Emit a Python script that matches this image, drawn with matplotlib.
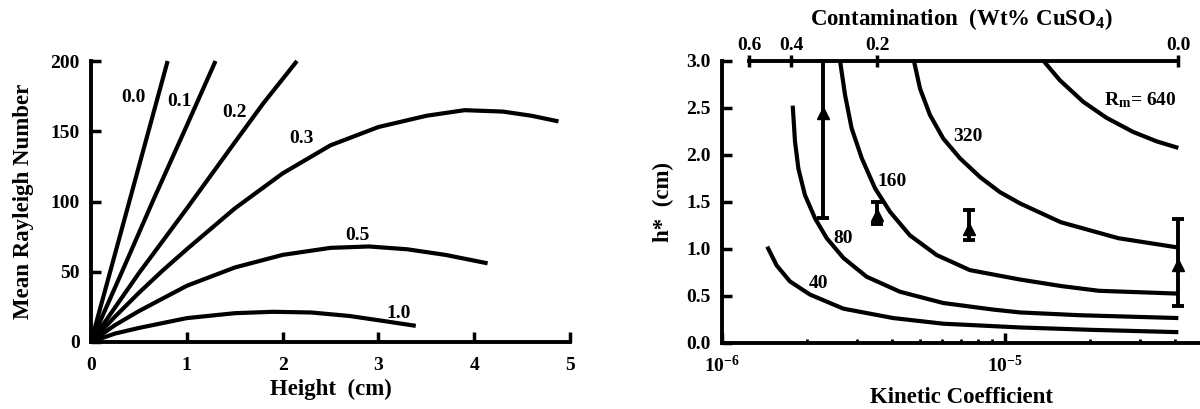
import matplotlib
matplotlib.use('Agg')
import matplotlib.pyplot as plt
from matplotlib.ticker import NullLocator, FixedLocator, FixedFormatter

plt.rcParams['font.family'] = ['Liberation Serif', 'DejaVu Serif']
plt.rcParams['font.weight'] = 'bold'
plt.rcParams['mathtext.fontset'] = 'custom'
plt.rcParams['mathtext.rm'] = 'Liberation Serif:bold'
plt.rcParams['mathtext.bf'] = 'Liberation Serif:bold'
plt.rcParams['mathtext.it'] = 'Liberation Serif:bold'
plt.rcParams['mathtext.default'] = 'rm'

# ---------------- Left panel data: Mean Rayleigh number vs height ----------------
contam_labels = ['0.0', '0.1', '0.2', '0.3', '0.5', '1.0']
height_00 = [0, 0.4, 0.8]
rayl_00 = [0, 100, 200]
height_01 = [0, 0.33, 0.65, 0.98, 1.30]
rayl_01 = [0, 51, 101, 151, 200]
height_02 = [0, 0.5, 1.0, 1.5, 1.8, 2.15]
rayl_02 = [0, 49, 95, 142, 170, 200]
height_03 = [0, 0.25, 0.5, 0.75, 1.0, 1.5, 2.0, 2.5, 3.0, 3.5, 3.9, 4.3, 4.6, 4.88]
rayl_03 = [0, 18, 35, 51, 66, 95, 120, 140, 153, 161, 165, 164, 161, 157]
height_05 = [0, 0.25, 0.5, 1.0, 1.5, 2.0, 2.5, 2.9, 3.3, 3.7, 4.14]
rayl_05 = [0, 12, 22, 40, 53, 62, 67, 68, 66, 62, 56]
height_10 = [0, 0.25, 0.5, 1.0, 1.5, 1.9, 2.3, 2.7, 3.0, 3.39]
rayl_10 = [0, 6, 10, 17, 20.5, 21.5, 21, 18.5, 15.5, 11.5]

# ---------------- Right panel data: h* vs kinetic coefficient ----------------
rm_labels = ['40', '80', '160', '320']
k_40 = [1.445e-6, 1.560e-6, 1.738e-6, 2.046e-6, 2.685e-6, 4.027e-6, 6.053e-6, 1.130e-5,
        2.0e-5, 4.1e-5]
h_40 = [1.02, 0.82, 0.65, 0.51, 0.36, 0.26, 0.20, 0.16, 0.135, 0.11]
k_80 = [1.778e-6, 1.811e-6, 1.862e-6, 1.963e-6, 2.133e-6, 2.344e-6, 2.685e-6, 3.243e-6,
        4.256e-6, 6.053e-6, 9.099e-6, 1.130e-5, 1.841e-5, 4.1e-5]
h_80 = [2.52, 2.14, 1.85, 1.57, 1.32, 1.11, 0.90, 0.70, 0.54, 0.42, 0.35, 0.32, 0.29, 0.26]
k_160 = [2.612e-6, 2.723e-6, 2.871e-6, 3.119e-6, 3.475e-6, 3.926e-6, 4.613e-6, 5.741e-6,
         7.516e-6, 1.130e-5, 1.585e-5, 2.148e-5, 4.1e-5]
h_160 = [3.0, 2.63, 2.28, 1.96, 1.64, 1.39, 1.14, 0.93, 0.77, 0.67, 0.60, 0.55, 0.52]
k_320 = [4.764e-6, 5.012e-6, 5.433e-6, 6.053e-6, 6.934e-6, 8.166e-6, 9.594e-6, 1.130e-5,
         1.574e-5, 2.512e-5, 4.1e-5]
h_320 = [3.0, 2.70, 2.42, 2.17, 1.96, 1.76, 1.60, 1.48, 1.28, 1.11, 1.01]
k_640 = [1.365e-5, 1.563e-5, 1.892e-5, 2.286e-5, 2.838e-5, 3.436e-5, 4.1e-5]
h_640 = [3.0, 2.79, 2.56, 2.39, 2.24, 2.14, 2.07]

# measured points with error bars
k_meas = [2.28e-6, 3.53e-6, 7.48e-6, 4.1e-5]
h_meas = [2.44, 1.36, 1.21, 0.82]
h_low = [1.32, 1.26, 1.09, 0.39]
h_high = [3.0, 1.50, 1.41, 1.31]

# top axis: contamination (Wt% CuSO4) and the kinetic coefficient it maps to
conc_labels = ['0.6', '0.4', '0.2', '0.0']
conc_k = [1.25e-6, 1.76e-6, 3.54e-6, 4.1e-5]

W, H = 1200, 409
fig = plt.figure(figsize=(W / 100, H / 100), dpi=100)

LW = 3.0
SP = 2.8
TICK_FS = 14
TXT_FS = 14
LAB_FS = 16.5

# ================= Left panel =================
ax1 = fig.add_axes([91 / W, (H - 342) / H, (570 - 91) / W, (342 - 61) / H])
ax1.set_xlim(0, 5)
ax1.set_ylim(0, 200)
for s in ['top', 'right']:
    ax1.spines[s].set_visible(False)
for s in ['left', 'bottom']:
    ax1.spines[s].set_linewidth(SP)
ax1.set_xticks([0, 1, 2, 3, 4, 5])
ax1.set_yticks([0, 50, 100, 150, 200])
ax1.tick_params(direction='in', length=7, width=2.5, labelsize=TICK_FS)
ax1.tick_params(axis='x', pad=11)
ax1.tick_params(axis='y', pad=8)

curves_left = [(height_00, rayl_00), (height_01, rayl_01), (height_02, rayl_02),
               (height_03, rayl_03), (height_05, rayl_05), (height_10, rayl_10)]
for hx, ry in curves_left:
    ax1.plot(hx, ry, color='black', lw=LW, solid_capstyle='butt',
             solid_joinstyle='round', clip_on=False)

left_label_pos = [(0.44, 174), (0.92, 171), (1.50, 163), (2.20, 145), (2.78, 76), (3.21, 20)]
for lab, (lx, ly) in zip(contam_labels, left_label_pos):
    ax1.text(lx, ly, lab, ha='center', va='center', fontsize=TXT_FS, fontweight='bold')

ax1.set_xlabel('Height  (cm)', fontsize=LAB_FS, fontweight='bold', labelpad=3)
ax1.set_ylabel('Mean Rayleigh Number', fontsize=LAB_FS, fontweight='bold', labelpad=12)

# ================= Right panel =================
ax2 = fig.add_axes([722 / W, (H - 342.5) / H, (W - 722) / W, (342.5 - 60.5) / H])
ax2.set_xscale('log')
ax2.set_xlim(1e-6, 4.89e-5)
ax2.set_ylim(0, 3.0)
for s in ['top', 'right']:
    ax2.spines[s].set_visible(False)
for s in ['left', 'bottom']:
    ax2.spines[s].set_linewidth(SP)
ax2.xaxis.set_major_locator(FixedLocator([1e-6, 1e-5]))
ax2.xaxis.set_major_formatter(FixedFormatter([r'$10^{-6}$', r'$10^{-5}$']))
ax2.xaxis.set_minor_locator(FixedLocator([2e-6, 3e-6, 4e-6, 5e-6, 6e-6, 7e-6, 8e-6, 9e-6,
                                          2e-5, 3e-5, 4e-5]))
ax2.xaxis.set_minor_formatter(FixedFormatter([''] * 11))
ax2.set_yticks([0, 0.5, 1.0, 1.5, 2.0, 2.5, 3.0])
ax2.set_yticklabels(['0.0', '0.5', '1.0', '1.5', '2.0', '2.5', '3.0'])
ax2.tick_params(which='major', direction='in', length=7, width=2.5, labelsize=TICK_FS)
ax2.tick_params(which='minor', direction='in', length=3, width=2)
ax2.tick_params(axis='x', which='major', pad=9)
ax2.tick_params(axis='y', pad=8)

for kx, hy in [(k_40, h_40), (k_80, h_80), (k_160, h_160), (k_320, h_320), (k_640, h_640)]:
    ax2.plot(kx, hy, color='black', lw=LW, solid_capstyle='butt',
             solid_joinstyle='round', clip_on=False)

yerr = [[m - lo for m, lo in zip(h_meas, h_low)], [hi - m for m, hi in zip(h_meas, h_high)]]
ax2.errorbar(k_meas, h_meas, yerr=yerr, fmt='^', color='black', ms=9, elinewidth=2.8,
             capsize=4.5, capthick=2.8, clip_on=False, zorder=5)

right_label_pos = [(2.19e-6, 0.63), (2.67e-6, 1.11), (3.98e-6, 1.71), (7.41e-6, 2.19)]
for lab, (lx, ly) in zip(rm_labels, right_label_pos):
    ax2.text(lx, ly, lab, ha='center', va='center', fontsize=TXT_FS, fontweight='bold')
ax2.text(3.0e-5, 2.58, r'R$_{\mathrm{m}}$= 640', ha='center', va='center',
         fontsize=TXT_FS, fontweight='bold')

ax2.set_xlabel('Kinetic Coefficient', fontsize=LAB_FS, fontweight='bold', labelpad=8)
ax2.set_ylabel('h*  (cm)', fontsize=LAB_FS, fontweight='bold', labelpad=9)

# top contamination axis
axt = ax2.twiny()
axt.set_xscale('log')
axt.set_xlim(ax2.get_xlim())
axt.xaxis.set_major_locator(FixedLocator(conc_k))
axt.xaxis.set_major_formatter(FixedFormatter(conc_labels))
axt.xaxis.set_minor_locator(NullLocator())
axt.tick_params(axis='y', which='both', left=False, right=False,
                labelleft=False, labelright=False)
for s in ['left', 'right', 'bottom']:
    axt.spines[s].set_visible(False)
axt.spines['top'].set_linewidth(SP)
axt.spines['top'].set_bounds(conc_k[0], conc_k[-1])
axt.tick_params(axis='x', direction='inout', length=8, width=2.5, labelsize=TICK_FS, pad=1)
axt.set_xlabel(r'Contamination  (Wt% CuSO$_4$)', fontsize=LAB_FS, fontweight='bold', labelpad=8)

fig.savefig('out.png', dpi=100)
